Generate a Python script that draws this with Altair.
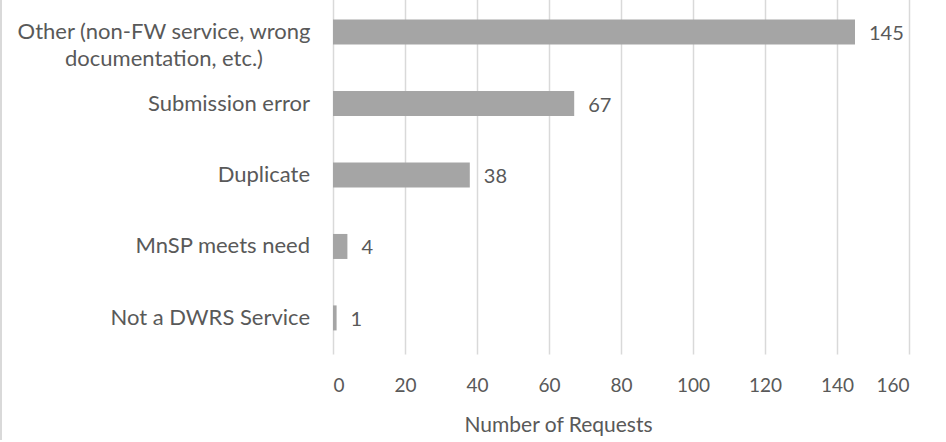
import altair as alt
import pandas as pd

categories = [
    "Other (non-FW service, wrong\ndocumentation, etc.)",
    "Submission error",
    "Duplicate",
    "MnSP meets need",
    "Not a DWRS Service",
]
requests = [145, 67, 38, 4, 1]
x_ticks = [0, 20, 40, 60, 80, 100, 120, 140, 160]

df = pd.DataFrame({"category": categories, "requests": requests})
df["wrapped"] = df["category"].str.contains("\n")

FONT = "Lato"
TEXT = "#595959"

y_enc = alt.Y(
    "category:N",
    sort=categories,
    axis=None,
    scale=alt.Scale(paddingInner=0.65, paddingOuter=0.33),
)

base = alt.Chart(df).encode(y=y_enc)

bars = base.mark_bar(color="#A5A5A5").encode(
    x=alt.X(
        "requests:Q",
        scale=alt.Scale(domain=[0, 160], nice=False),
        axis=alt.Axis(
            values=x_ticks,
            title="Number of Requests",
            grid=True,
            gridColor="#D9D9D9",
            gridWidth=1.5,
            domain=False,
            ticks=False,
            labelFont=FONT,
            labelFontSize=19,
            labelColor=TEXT,
            labelPadding=22,
            titleFont=FONT,
            titleFontSize=21,
            titleFontWeight="normal",
            titleColor=TEXT,
            titlePadding=19,
            titleX=225,
            titleAlign="center",
        ),
    )
)

values = base.mark_text(
    align="left", baseline="middle", dx=14, dy=2, font=FONT, fontSize=20, color=TEXT
).encode(x="requests:Q", text="requests:Q")

# single-line category labels, right-aligned against the plot
labels = (
    base.transform_filter("!datum.wrapped")
    .mark_text(align="right", baseline="middle", font=FONT, fontSize=22, color=TEXT)
    .encode(x=alt.value(-23), text="category:N")
)

# the long category label is wrapped onto two centred lines
wrapped = (
    base.transform_filter("datum.wrapped")
    .mark_text(
        align="center",
        baseline="middle",
        lineBreak="\n",
        lineHeight=27,
        font=FONT,
        fontSize=22,
        color=TEXT,
    )
    .encode(x=alt.value(-169), text="category:N")
)

# thin frame line along the chart's left edge
frame = alt.Chart(df).mark_rule(color="#D9D9D9", strokeWidth=1.5).encode(
    x=alt.value(-332), y=alt.value(4), y2=alt.value(444)
)

chart = (
    alt.layer(bars, values, labels, wrapped, frame)
    .properties(
        width=576,
        height=358,
        padding={"left": 333, "top": -4, "right": 37, "bottom": 88},
        autosize=alt.AutoSizeParams(type="none"),
    )
    .configure_view(stroke=None)
)

chart.save("out.html", embed_options={"renderer": "svg", "actions": False})
